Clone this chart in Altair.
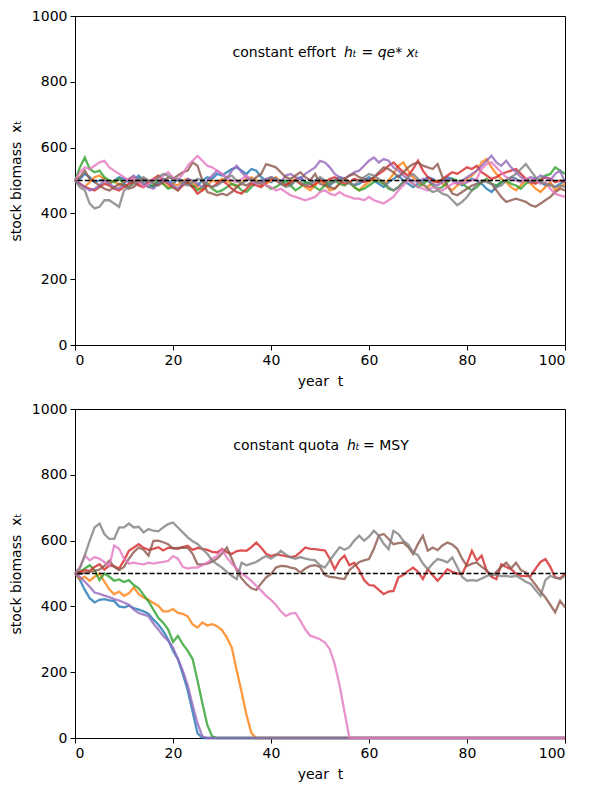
import altair as alt
import pandas as pd

years = list(range(101))
series_names = ["s0", "s1", "s2", "s3", "s4", "s5", "s6", "s7"]
colors = ["#1f77b4", "#ff7f0e", "#2ca02c", "#d62728", "#9467bd", "#8c564b", "#e377c2", "#7f7f7f"]

# ---- constant effort panel ----
effort_blue = [500, 505, 520, 510, 495, 500, 505, 490, 500, 510,
               505, 495, 500, 515, 500, 490, 480, 495, 505, 500,
               490, 505, 500, 490, 480, 485, 500, 510, 505, 520,
               515, 525, 535, 540, 530, 520, 535, 530, 510, 500,
               495, 505, 500, 490, 485, 500, 510, 495, 490, 500,
               505, 495, 485, 500, 510, 505, 495, 485, 490, 500,
               510, 500, 490, 480, 495, 505, 515, 500, 490, 480,
               490, 500, 510, 505, 495, 500, 510, 505, 495, 485,
               495, 505, 500, 490, 475, 465, 480, 495, 500, 510,
               505, 495, 500, 510, 505, 495, 485, 490, 480, 490,
               500]
effort_orange = [500, 490, 480, 495, 510, 515, 505, 490, 500, 485,
                 495, 505, 510, 490, 480, 495, 505, 500, 490, 480,
                 490, 485, 500, 505, 495, 480, 470, 485, 500, 495,
                 505, 500, 490, 480, 495, 505, 510, 500, 485, 490,
                 500, 510, 495, 485, 495, 505, 490, 480, 470, 485,
                 500, 490, 470, 475, 490, 505, 495, 480, 470, 485,
                 495, 505, 500, 490, 500, 520, 545, 555, 530, 510,
                 495, 485, 480, 495, 500, 490, 480, 470, 485, 495,
                 505, 515, 530, 555, 565, 540, 520, 505, 495, 480,
                 470, 485, 500, 490, 475, 465, 480, 495, 470, 480,
                 490]
effort_green = [500, 540, 570, 535, 525, 530, 510, 500, 495, 505,
                490, 480, 495, 505, 490, 480, 485, 500, 490, 475,
                480, 470, 490, 495, 485, 470, 480, 490, 475, 465,
                470, 480, 490, 485, 470, 465, 480, 495, 500, 485,
                475, 480, 490, 500, 485, 470, 480, 495, 490, 480,
                470, 485, 495, 500, 490, 485, 495, 480, 470, 475,
                485, 495, 500, 490, 475, 470, 480, 495, 505, 490,
                480, 490, 500, 485, 475, 480, 495, 505, 500, 490,
                480, 470, 480, 495, 505, 490, 485, 495, 500, 490,
                485, 475, 490, 500, 495, 505, 515, 520, 540, 530,
                520]
effort_red = [500, 490, 480, 475, 470, 480, 490, 485, 475, 470,
              480, 490, 495, 485, 480, 495, 505, 515, 500, 490,
              480, 470, 485, 495, 480, 460, 470, 485, 480, 490,
              500, 490, 475, 465, 460, 475, 490, 485, 480, 495,
              505, 500, 490, 485, 495, 500, 490, 485, 480, 490,
              500, 495, 505, 510, 500, 490, 495, 505, 500, 495,
              500, 510, 520, 530, 545, 555, 540, 525, 515, 535,
              560, 530, 510, 500, 495, 505, 515, 525, 520, 530,
              540, 535, 545, 525, 515, 505, 510, 520, 525, 530,
              535, 520, 505, 495, 490, 500, 510, 505, 495, 500,
              495]
effort_purple = [500, 490, 480, 470, 475, 485, 500, 490, 480, 475,
                 490, 505, 515, 500, 490, 480, 475, 490, 500, 495,
                 485, 475, 490, 505, 500, 490, 480, 500, 515, 530,
                 520, 505, 530, 545, 525, 510, 500, 490, 495, 505,
                 510, 505, 495, 515, 520, 510, 505, 520, 530, 540,
                 560, 555, 540, 520, 510, 505, 515, 525, 530, 545,
                 560, 570, 555, 565, 560, 540, 530, 515, 505, 500,
                 495, 505, 500, 490, 485, 495, 505, 500, 490, 500,
                 510, 520, 530, 545, 560, 575, 555, 545, 560, 540,
                 525, 510, 500, 495, 505, 515, 510, 500, 520, 530,
                 495]
effort_brown = [500, 510, 530, 505, 495, 485, 475, 470, 480, 490,
                485, 475, 480, 495, 505, 500, 490, 485, 495, 510,
                505, 515, 525, 530, 555, 545, 500, 465, 460, 455,
                460, 455, 465, 480, 490, 485, 495, 510, 520, 550,
                545, 540, 525, 510, 505, 515, 525, 510, 500, 520,
                490, 485, 480, 475, 490, 505, 515, 520, 510, 505,
                500, 510, 525, 540, 535, 525, 510, 525, 540, 550,
                555, 545, 540, 535, 550, 510, 485, 460, 455, 465,
                475, 485, 490, 495, 500, 490, 470, 450, 435, 440,
                445, 440, 435, 425, 420, 430, 440, 450, 465, 475,
                470]
effort_pink = [500, 525, 540, 535, 545, 555, 560, 540, 530, 520,
               510, 500, 505, 495, 480, 490, 505, 500, 515, 525,
               510, 500, 520, 545, 560, 575, 560, 545, 540, 530,
               520, 510, 500, 495, 505, 515, 500, 490, 495, 485,
               480, 470, 475, 465, 455, 450, 445, 440, 445, 450,
               465, 470, 460, 455, 465, 455, 450, 445, 445, 440,
               450, 440, 435, 430, 440, 450, 470, 485, 500, 490,
               480, 475, 470, 480, 475, 470, 480, 490, 495, 490,
               495, 500, 505, 535, 550, 555, 540, 525, 510, 505,
               500, 495, 505, 510, 500, 490, 495, 475, 460, 455,
               450]
effort_gray = [500, 480, 470, 430, 415, 420, 440, 440, 430, 420,
               470, 480, 490, 505, 510, 500, 495, 510, 520, 515,
               505, 500, 490, 485, 495, 505, 500, 490, 480, 485,
               495, 510, 515, 500, 490, 500, 505, 495, 490, 500,
               510, 505, 490, 480, 485, 500, 495, 485, 490, 500,
               510, 500, 490, 495, 505, 500, 490, 485, 500, 510,
               520, 515, 505, 495, 480, 470, 480, 495, 510, 520,
               505, 490, 475, 465, 470, 460, 455, 440, 425, 435,
               450, 470, 490, 500, 495, 490, 480, 485, 500, 510,
               520, 535, 550, 530, 510, 495, 490, 485, 480, 485,
               480]

# ---- constant quota panel ----
quota_blue = [500, 480, 450, 425, 412, 420, 422, 418, 416, 400,
              397, 402, 395, 390, 385, 377, 360, 345, 325, 300,
              265, 240, 195, 145, 80, 15] + [0] * 75
quota_orange = [500, 483, 490, 478, 490, 500, 475, 452, 437, 445,
                432, 440, 458, 437, 427, 420, 410, 402, 385, 385,
                392, 380, 377, 370, 345, 336, 351, 342, 346, 340,
                328, 305, 275, 205, 140, 70, 15] + [0] * 64
quota_green = [500, 505, 515, 525, 510, 480, 500, 490, 478, 482,
               474, 480, 465, 455, 435, 415, 390, 365, 350, 330,
               292, 310, 285, 265, 240, 175, 105, 40, 5] + [0] * 72
quota_red = [500, 505, 510, 508, 520, 528, 512, 525, 522, 515,
             540, 569, 579, 589, 578, 572, 575, 580, 570, 578,
             578, 575, 580, 584, 572, 578, 575, 572, 566, 564,
             574, 565, 559, 568, 570, 569, 580, 594, 578, 560,
             553, 558, 556, 553, 550, 553, 565, 579, 575, 574,
             572, 570, 545, 513, 540, 554, 525, 533, 510, 480,
             465, 463, 450, 437, 445, 447, 488, 495, 508, 518,
             505, 483, 513, 495, 478, 495, 513, 505, 500, 498,
             530, 569, 539, 554, 508, 490, 483, 528, 520, 513,
             500, 493, 492, 493, 515, 535, 544, 520, 488, 485,
             498]
quota_purple = [500, 490, 475, 460, 442, 438, 433, 428, 422, 418,
                412, 405, 390, 380, 375, 370, 348, 330, 310, 296,
                275, 240, 205, 160, 100, 45, 5] + [0] * 74
quota_brown = [500, 498, 502, 505, 508, 512, 523, 539, 520, 510,
               520, 545, 565, 579, 572, 554, 599, 600, 595, 589,
               576, 578, 579, 578, 560, 528, 528, 530, 536, 545,
               560, 579, 545, 510, 485, 468, 455, 450, 470, 488,
               498, 518, 523, 522, 518, 515, 503, 515, 523, 525,
               520, 495, 490, 488, 485, 483, 510, 523, 535, 540,
               544, 575, 615, 620, 605, 589, 592, 594, 580, 559,
               590, 615, 569, 579, 571, 585, 594, 588, 575, 545,
               523, 530, 533, 520, 510, 493, 505, 520, 533, 515,
               533, 510, 503, 485, 465, 445, 427, 405, 382, 417,
               397]
quota_pink = [500, 520, 555, 540, 550, 545, 535, 523, 585, 575,
              545, 530, 533, 530, 528, 533, 530, 533, 535, 538,
              553, 545, 520, 515, 518, 518, 525, 533, 545, 553,
              574, 548, 530, 515, 500, 490, 478, 462, 448, 432,
              420, 405, 385, 371, 378, 380, 356, 330, 311, 306,
              300, 290, 270, 225, 160, 80] + [0] * 45
quota_gray = [500, 515, 555, 600, 640, 652, 620, 605, 605, 640,
              640, 652, 640, 642, 625, 635, 630, 628, 640, 650,
              655, 640, 625, 610, 598, 590, 574, 560, 540, 528,
              518, 505, 493, 483, 533, 525, 530, 535, 545, 553,
              545, 555, 569, 558, 549, 545, 550, 545, 542, 540,
              525, 518, 540, 560, 580, 572, 580, 600, 615, 600,
              612, 630, 615, 590, 574, 630, 620, 600, 588, 565,
              555, 530, 513, 530, 544, 540, 534, 549, 520, 490,
              478, 480, 478, 485, 492, 498, 495, 492, 493, 490,
              493, 485, 475, 468, 450, 432, 480, 493, 487, 483,
              493]

effort = [effort_blue, effort_orange, effort_green, effort_red,
          effort_purple, effort_brown, effort_pink, effort_gray]
quota = [quota_blue, quota_orange, quota_green, quota_red,
         quota_purple, quota_brown, quota_pink, quota_gray]

x_ticks = [0, 20, 40, 60, 80, 100]
y_ticks = [0, 200, 400, 600, 800, 1000]
msy_level = 500
label_t = 50
label_y = 888
NB = "\u00a0"

FONT = "DejaVu Sans"
FS = 14


def long_frame(groups):
    rows = []
    for name, vals in zip(series_names, groups):
        for t, v in zip(years, vals):
            rows.append({"t": t, "x": v, "series": name})
    return pd.DataFrame(rows)


def panel(groups, pieces):
    df = long_frame(groups)
    xs = alt.Scale(domain=[0, 100], nice=False, zero=False)
    ys = alt.Scale(domain=[0, 1000], nice=False)
    xax = alt.Axis(values=x_ticks, title="year" + NB + NB + "t", grid=False, titlePadding=7, format="d")
    yax = alt.Axis(values=y_ticks, title="stock biomass" + NB + NB + "xₜ", grid=False, titlePadding=8, format="d")
    lines = alt.Chart(df).mark_line(strokeWidth=2.3, opacity=0.8).encode(
        x=alt.X("t:Q", scale=xs, axis=xax),
        y=alt.Y("x:Q", scale=ys, axis=yax),
        color=alt.Color("series:N", scale=alt.Scale(domain=series_names, range=colors), legend=None),
        order=alt.Order("t:Q"),
    )
    rule = alt.Chart(pd.DataFrame({"level": [msy_level]})).mark_rule(
        color="black", strokeWidth=1.3, strokeDash=[5, 2.2]
    ).encode(y=alt.Y("level:Q", scale=ys))
    layers = [lines, rule]
    for txt, align, dx, style in pieces:
        layers.append(
            alt.Chart(pd.DataFrame({"tx": [label_t], "ty": [label_y], "label": [txt]})).mark_text(
                fontSize=FS, font=FONT, color="black", align=align, baseline="middle",
                dx=dx, fontStyle=style
            ).encode(x=alt.X("tx:Q", scale=xs), y=alt.Y("ty:Q", scale=ys), text="label:N")
        )
    return alt.layer(*layers).properties(width=490, height=329)


top = panel(effort, [
    ("constant effort", "right", 16, "normal"),
    ("hₜ = qe* xₜ", "left", 24, "italic"),
])
bottom = panel(quota, [
    ("constant quota", "right", 19, "normal"),
    ("hₜ", "left", 27, "italic"),
    ("= MSY", "left", 43, "normal"),
])

chart = alt.vconcat(top, bottom, spacing=12).properties(
    padding={"left": 0, "top": 0, "right": 5, "bottom": 5}
).configure_view(stroke="black", strokeWidth=1).configure_axis(
    labelFont=FONT, titleFont=FONT, labelFontSize=FS, titleFontSize=FS,
    labelColor="black", titleColor="black", titleFontWeight="normal",
    domainColor="black", tickColor="black", tickSize=5, labelPadding=3
)

chart.save("out.html", embed_options={"renderer": "svg", "actions": False})
